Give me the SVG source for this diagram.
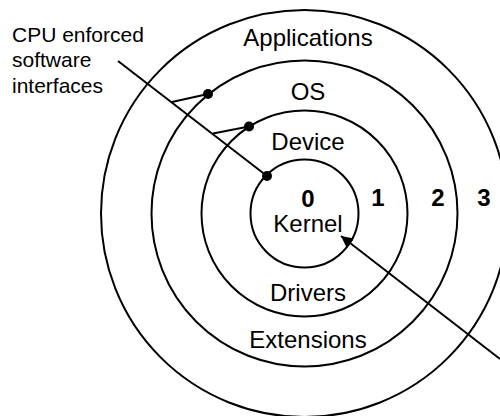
<svg xmlns="http://www.w3.org/2000/svg" width="500" height="416" viewBox="0 0 500 416">
  <defs>
    <marker id="arrowhead" viewBox="0 0 10 10" refX="10" refY="5" markerWidth="6" markerHeight="6" markerUnits="strokeWidth" orient="auto">
      <path d="M0,0 L10,5 L0,10 z" fill="#000"/>
    </marker>
  </defs>
  <style>
    .ring { fill: none; stroke: #000; stroke-width: 2; }
    .lbl { font-family: "Liberation Sans", Arial, sans-serif; font-size: 24px; fill: #000; text-anchor: middle; }
    .num { font-weight: bold; }
    .note { font-family: "Liberation Sans", Arial, sans-serif; font-size: 21px; fill: #000; }
    .wire { stroke: #000; stroke-width: 2; fill: none; }
    .dot { fill: #000; }
  </style>
  <rect width="500" height="416" fill="#fff"/>

  <!-- protection rings, outermost first -->
  <g id="ring3">
    <circle class="ring" cx="304.5" cy="213.5" r="203.5"/>
    <text class="lbl" x="308" y="46">Applications</text>
    <text class="lbl num" x="484" y="206">3</text>
  </g>
  <g id="ring2">
    <circle class="ring" cx="304.5" cy="213.5" r="153"/>
    <text class="lbl" x="308" y="100">OS</text>
    <text class="lbl" x="308" y="348">Extensions</text>
    <text class="lbl num" x="438" y="206">2</text>
  </g>
  <g id="ring1">
    <circle class="ring" cx="304.5" cy="213.5" r="103"/>
    <text class="lbl" x="308" y="150">Device</text>
    <text class="lbl" x="308" y="301">Drivers</text>
    <text class="lbl num" x="378" y="206">1</text>
  </g>
  <g id="ring0">
    <circle class="ring" cx="304.5" cy="213.5" r="54"/>
    <text class="lbl num" x="308" y="207">0</text>
    <text class="lbl" x="308" y="232">Kernel</text>
  </g>

  <g id="caption">
    <text class="note" x="12" y="41.5">CPU enforced</text>
    <text class="note" x="12" y="67">software</text>
    <text class="note" x="12" y="92.5">interfaces</text>
  </g>

  <!-- call-out leaders and interface points -->
  <g id="connectors">
    <line class="wire" x1="118" y1="61" x2="267" y2="176"/>
    <line class="wire" x1="172" y1="102" x2="208" y2="94"/>
    <line class="wire" x1="213" y1="133.5" x2="249" y2="126.5"/>
    <circle class="dot" cx="208" cy="94" r="5"/>
    <circle class="dot" cx="249" cy="126.5" r="5"/>
    <circle class="dot" cx="267" cy="176" r="5"/>
    <line class="wire" x1="500" y1="359" x2="341" y2="236" marker-end="url(#arrowhead)"/>
  </g>
</svg>
